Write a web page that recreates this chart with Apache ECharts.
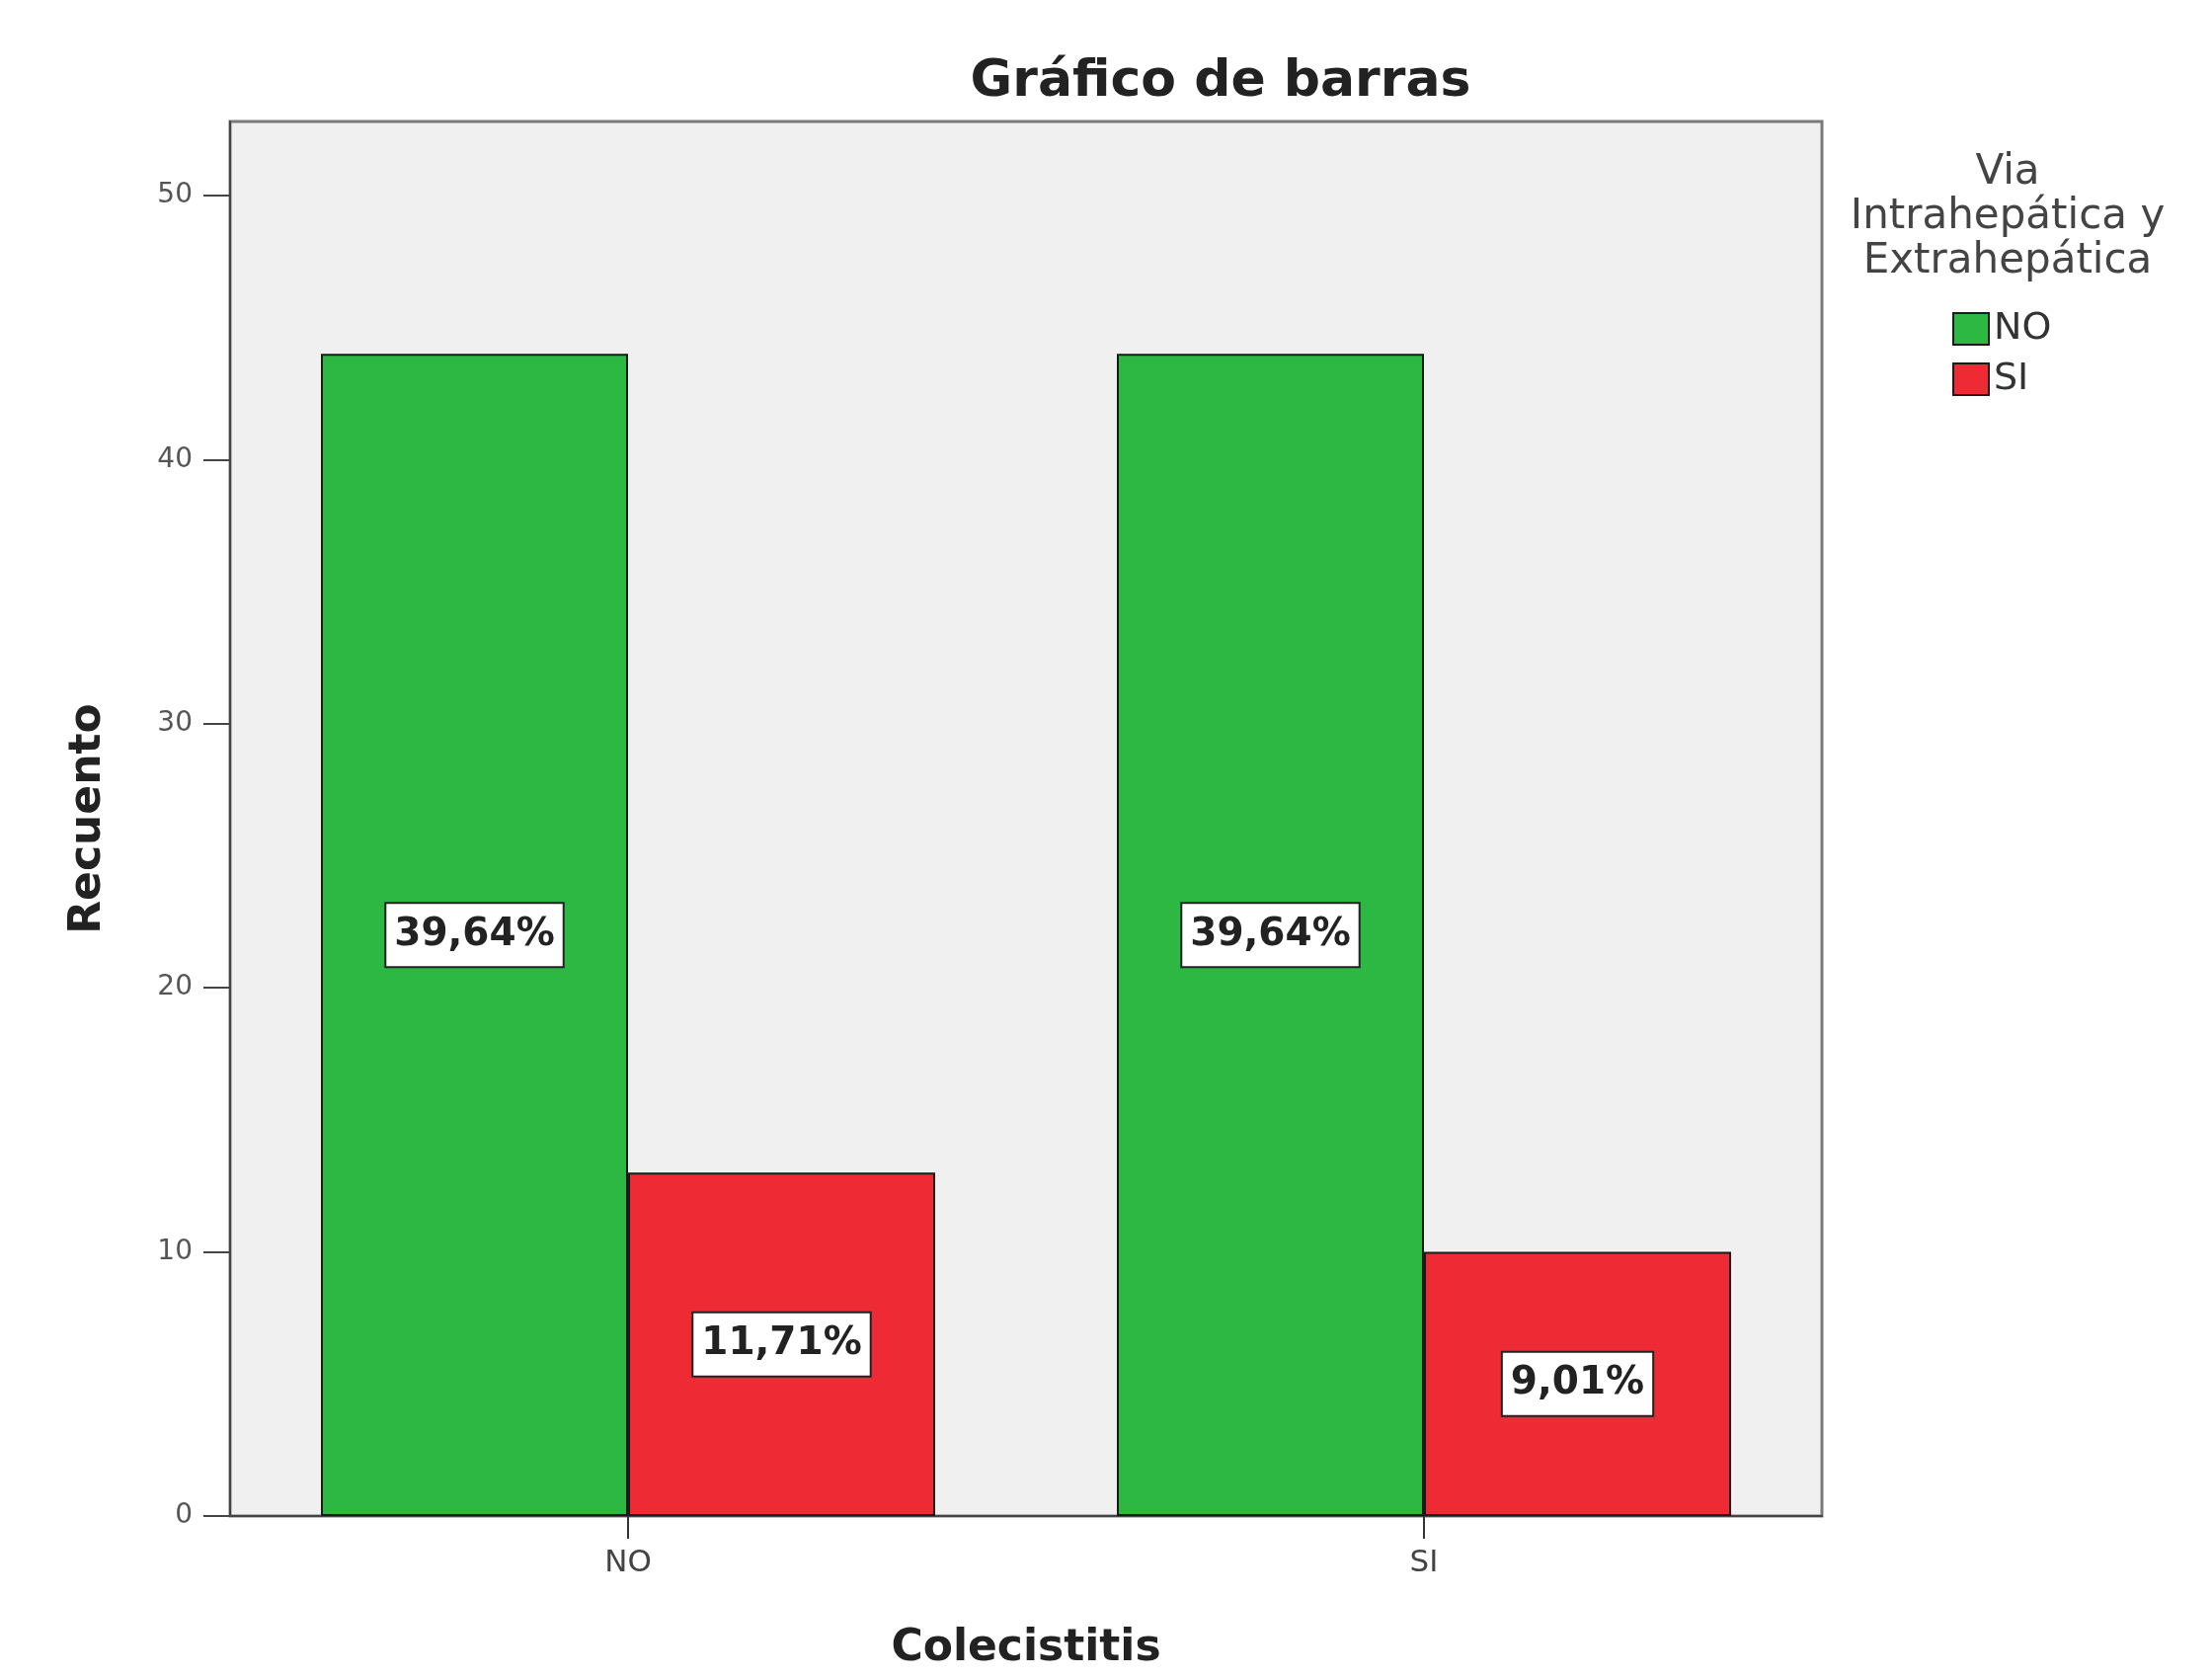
<!DOCTYPE html>
<html>
<head>
<meta charset="utf-8">
<script src="https://cdn.jsdelivr.net/npm/echarts@6/dist/echarts.min.js"></script>
<style>html,body{margin:0;padding:0;background:#fff;}#c{width:2240px;height:1698px;}</style>
</head>
<body>
<div id="c"></div>
<script>
const categories = ['NO', 'SI'];
const seriesNames = ['NO', 'SI'];
const valuesNO = [44, 44];
const valuesSI = [13, 10];
const yTicks = [0, 10, 20, 30, 40, 50];
const colors = ['#2cb843', '#ee2a34'];

const total = valuesNO.concat(valuesSI).reduce((a, b) => a + b, 0);
const fmt = p => (p.value / total * 100).toFixed(2).replace('.', ',') + '%';
const FONT = '"DejaVu Sans", Verdana, sans-serif';

const labelStyle = {
  show: true, position: 'inside', formatter: fmt,
  fontFamily: FONT, fontWeight: 'bold', fontSize: 39, color: '#222',
  backgroundColor: '#fff', borderColor: '#222', borderWidth: 2, padding: [13, 8, 11, 8]
};

const chart = echarts.init(document.getElementById('c'));
chart.setOption({
  backgroundColor: '#fff',
  animation: false,
  title: [
    { text: 'Gráfico de barras', left: 1231, top: 52, textAlign: 'center',
      textStyle: { fontFamily: FONT, fontWeight: 'bold', fontSize: 52, color: '#222' } },
    { text: 'Via\nIntrahepática y\nExtrahepática', left: 2028, top: 148, textAlign: 'center',
      textStyle: { fontFamily: FONT, fontWeight: 'normal', fontSize: 42, lineHeight: 45, color: '#444' } }
  ],
  legend: {
    orient: 'vertical', left: 1977, top: 314, padding: 0, itemWidth: 36, itemHeight: 32, itemGap: 13,
    icon: 'rect', data: seriesNames,
    textStyle: { fontFamily: FONT, fontSize: 38, color: '#333', padding: [0, 0, 0, 0] }
  },
  grid: {
    left: 233, right: 395, top: 123, bottom: 163, show: true, outerBoundsMode: 'none',
    backgroundColor: '#f0f0f0', borderColor: '#7a7a7a', borderWidth: 3
  },
  xAxis: {
    type: 'category', data: categories,
    name: 'Colecistitis', nameLocation: 'middle', nameGap: 113,
    nameTextStyle: { fontFamily: FONT, fontWeight: 'bold', fontSize: 44, color: '#222' },
    axisLine: { lineStyle: { color: '#444', width: 2 } },
    axisTick: { show: true, alignWithLabel: true, length: 23, lineStyle: { color: '#333', width: 2 } },
    axisLabel: { fontFamily: FONT, fontSize: 31, color: '#444', margin: 32 }
  },
  yAxis: {
    type: 'value', min: 0, max: 52.8,
    name: 'Recuento', nameLocation: 'middle', nameGap: 121, nameRotate: 90,
    nameTextStyle: { fontFamily: FONT, fontWeight: 'bold', fontSize: 44, color: '#222' },
    axisLine: { show: true, lineStyle: { color: '#444', width: 2 } },
    axisTick: { show: true, length: 27, customValues: yTicks, lineStyle: { color: '#444', width: 2 } },
    axisLabel: { fontFamily: FONT, fontSize: 28, color: '#555', margin: 38, customValues: yTicks },
    splitLine: { show: false }
  },
  series: [
    { name: seriesNames[0], type: 'bar', data: valuesNO, barWidth: 311, barGap: '0%',
      itemStyle: { color: colors[0], borderColor: '#1a1a1a', borderWidth: 2 }, label: labelStyle },
    { name: seriesNames[1], type: 'bar', data: valuesSI, barWidth: 311, barGap: '0%',
      itemStyle: { color: colors[1], borderColor: '#1a1a1a', borderWidth: 2 }, label: labelStyle }
  ]
});
</script>
</body>
</html>
